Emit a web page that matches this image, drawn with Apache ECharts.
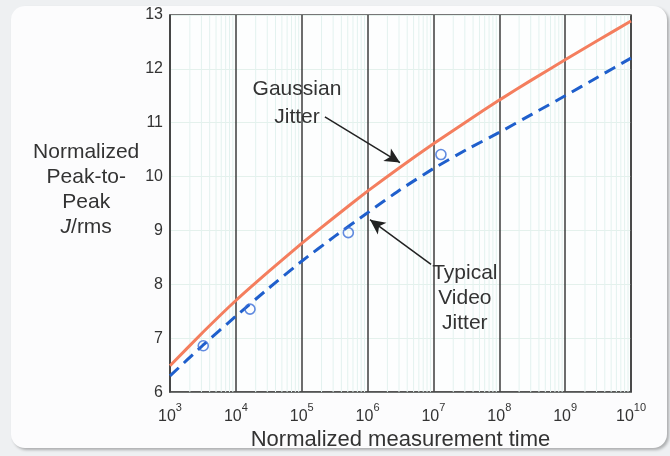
<!DOCTYPE html>
<html>
<head>
<meta charset="utf-8">
<script src="https://cdn.jsdelivr.net/npm/echarts@6/dist/echarts.min.js"></script>
<style>
  html, body { margin: 0; padding: 0; background: #eef0f2; }
  #card { position: absolute; left: 11px; top: 6px; width: 656px; height: 442px;
          background: #fcfcfd; border-radius: 14px; box-shadow: 2px 2px 3px rgba(0,0,0,0.28); }
  #chart { position: absolute; left: 0; top: 0; width: 670px; height: 456px; }
</style>
</head>
<body>
<div id="card"></div>
<div id="chart"></div>
<script>
// ---- data ----
const timeValues = [1e3, 3162, 1e4, 31623, 1e5, 316228, 1e6, 3162278, 1e7, 31622777, 1e8, 316227766, 1e9, 3162277660, 1e10];
const gaussianJitter = [6.49, 7.11, 7.70, 8.24, 8.76, 9.25, 9.73, 10.18, 10.61, 11.02, 11.42, 11.80, 12.17, 12.53, 12.89];
const videoJitter    = [6.30, 6.87, 7.41, 7.93, 8.43, 8.89, 9.33, 9.76, 10.15, 10.50, 10.82, 11.16, 11.50, 11.85, 12.20];
const measuredTime   = [3200, 16400, 510000, 13000000];
const measuredJitter = [6.86, 7.54, 8.96, 10.41];
const xExponents = [3, 4, 5, 6, 7, 8, 9, 10];
const yTicks = [6, 7, 8, 9, 10, 11, 12, 13];
const minorMultipliers = [2, 3, 4, 5, 6, 7, 8, 9];
// annotations in data coordinates
const gaussianLabel = 'Gaussian\nJitter';
const gaussianTextPos = [84700, 11.37];
const gaussianArrow = [[225000, 11.11], [3100000, 10.26]];
const videoLabel = 'Typical\nVideo\nJitter';
const videoTextPos = [30000000, 7.74];
const videoArrow = [[9200000, 8.37], [1090000, 9.20]];

const FONT = 'Liberation Sans, Arial, Helvetica, sans-serif';
const TXT = '#333333';

const gSeries = timeValues.map((t, i) => [t, gaussianJitter[i]]);
const vSeries = timeValues.map((t, i) => [t, videoJitter[i]]);
const mSeries = measuredTime.map((t, i) => [t, measuredJitter[i]]);

// minor log grid lines (2..9 in each decade)
const minorData = [];
for (let e = xExponents[0]; e < xExponents[xExponents.length - 1]; e++) {
  minorMultipliers.forEach(m => {
    const x = m * Math.pow(10, e);
    minorData.push([x, yTicks[0]], [x, yTicks[yTicks.length - 1]], [x, '-']);
  });
}

const chart = echarts.init(document.getElementById('chart'), null, { renderer: 'canvas' });
chart.setOption({
  animation: false,
  backgroundColor: 'transparent',
  textStyle: { fontFamily: FONT },
  grid: { left: 170, right: 39, top: 15, bottom: 63, show: true,
          backgroundColor: '#fdfefe', borderColor: '#4a4a4a', borderWidth: 1.5 },
  xAxis: {
    type: 'log', logBase: 10, min: 1e3, max: 1e10, splitNumber: 7,
    axisLine: { show: true, lineStyle: { color: '#4a4a4a', width: 1.5 } },
    axisTick: { show: false },
    splitLine: { show: true, lineStyle: { color: '#3c3c3c', width: 1.5 } },
    axisLabel: {
      margin: 10,
      formatter: v => {
        const e = Math.round(Math.log10(v));
        return xExponents.includes(e) ? '{b|10}{s|' + e + '}' : '';
      },
      rich: {
        b: { fontSize: 16, color: TXT, fontFamily: FONT, lineHeight: 22, verticalAlign: 'bottom' },
        s: { fontSize: 11, color: TXT, fontFamily: FONT, lineHeight: 12, verticalAlign: 'top' }
      }
    },
    name: 'Normalized measurement time',
    nameLocation: 'middle',
    nameGap: 32,
    nameTextStyle: { fontSize: 22, color: TXT, fontFamily: FONT }
  },
  yAxis: {
    type: 'value', min: yTicks[0], max: yTicks[yTicks.length - 1], interval: 1,
    axisLine: { show: true, lineStyle: { color: '#4a4a4a', width: 1.5 } },
    axisTick: { show: false },
    splitLine: { show: true, lineStyle: { color: '#e4f1ec', width: 1 } },
    axisLabel: { fontSize: 16, color: TXT, fontFamily: FONT, margin: 7,
                 formatter: v => yTicks.includes(v) ? String(v) : '' },
    name: 'Normalized\nPeak-to-\nPeak\n{i|J}/rms',
    nameLocation: 'middle',
    nameRotate: 0,
    nameGap: 82,
    nameTextStyle: {
      fontSize: 21, color: TXT, fontFamily: FONT, align: 'center', verticalAlign: 'middle',
      lineHeight: 25, padding: [0, 0, 28, 0],
      rich: { i: { fontSize: 21, color: TXT, fontFamily: FONT, fontStyle: 'italic', lineHeight: 25 } }
    }
  },
  series: [
    {
      name: 'minorGrid', type: 'line', data: minorData, silent: true, z: 1,
      symbol: 'none', connectNulls: false,
      lineStyle: { color: '#e3f2ef', width: 1 }
    },
    {
      name: 'Gaussian Jitter', type: 'line', data: gSeries, smooth: 0.15, z: 3,
      symbol: 'none', lineStyle: { color: '#f47e5e', width: 3 },
      markLine: {
        silent: true, symbol: ['none', 'arrow'], symbolSize: [11, 15],
        label: { show: false },
        lineStyle: { color: '#222222', width: 1.5, type: 'solid' },
        data: [[{ coord: gaussianArrow[0] }, { coord: gaussianArrow[1] }]]
      },
      markPoint: {
        silent: true, symbol: 'circle', symbolSize: 0,
        label: { show: true, position: 'inside', formatter: gaussianLabel,
                 fontSize: 21, lineHeight: 28, color: TXT, fontFamily: FONT, align: 'center' },
        data: [{ coord: gaussianTextPos }]
      }
    },
    {
      name: 'Typical Video Jitter', type: 'line', data: vSeries, smooth: 0.15, z: 4,
      symbol: 'none', lineStyle: { color: '#1f5fcc', width: 3, type: [12, 7] },
      markLine: {
        silent: true, symbol: ['none', 'arrow'], symbolSize: [11, 15],
        label: { show: false },
        lineStyle: { color: '#222222', width: 1.5, type: 'solid' },
        data: [[{ coord: videoArrow[0] }, { coord: videoArrow[1] }]]
      },
      markPoint: {
        silent: true, symbol: 'circle', symbolSize: 0,
        label: { show: true, position: 'inside', formatter: videoLabel,
                 fontSize: 21, lineHeight: 25, color: TXT, fontFamily: FONT, align: 'center' },
        data: [{ coord: videoTextPos }]
      }
    },
    {
      name: 'Measured', type: 'scatter', data: mSeries, z: 5,
      symbol: 'circle', symbolSize: 10,
      itemStyle: { color: 'rgba(0,0,0,0)', borderColor: '#3a6ed8', borderWidth: 1.6 }
    }
  ]
});
</script>
</body>
</html>
